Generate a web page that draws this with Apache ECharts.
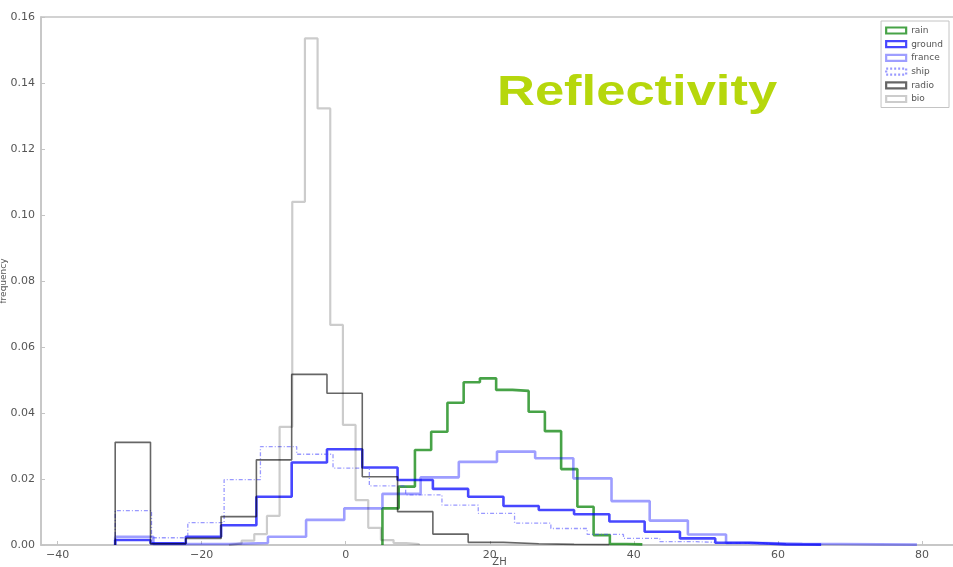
<!DOCTYPE html>
<html>
<head>
<meta charset="utf-8">
<script src="https://cdn.jsdelivr.net/npm/echarts@6/dist/echarts.min.js"></script>
<style>html,body{margin:0;padding:0;background:#fff;}#c{width:953px;height:567px;}</style>
</head>
<body>
<div id="c"></div>
<script>
// Histogram bins: start edge and bin width for each data set, and bin heights (frequency)
const rainStart = 5.1, rainWidth = 2.255;
const rainValues = [0.0111,0.0177,0.0288,0.0343,0.0431,0.0493,0.0505,0.047,0.0467,0.0404,0.0345,0.023,0.0116,0.003,0.0003,0.0002];

const groundStart = -32, groundWidth = 4.9;
const groundValues = [0.0015,0.0005,0.0025,0.006,0.0146,0.025,0.029,0.0235,0.0197,0.017,0.0146,0.0118,0.0106,0.0093,0.0071,0.004,0.002,0.0007,0.0002,0.0001];

const franceStart = -32, franceWidth = 5.3;
const franceValues = [0.0025,0.0003,0.0003,0.0006,0.0025,0.0076,0.0111,0.0155,0.0205,0.0252,0.0283,0.0263,0.0202,0.0133,0.0074,0.0032,0.0006,0.0004,0.0003,0.0002,0.0001];

const shipStart = -32, shipWidth = 5.04;
const shipValues = [0.0104,0.0022,0.0068,0.0198,0.0298,0.0275,0.0233,0.0179,0.0152,0.0121,0.0096,0.0066,0.005,0.0032,0.002,0.001,0.0006,0.0003];

const radioStart = -32, radioWidth = 4.9;
const radioValues = [0.0311,0.0004,0.002,0.0086,0.0258,0.0517,0.046,0.0207,0.0101,0.0033,0.0008,0.0004,0.0002,0.0001];

const bioStart = -16.21, bioWidth = 1.758;
const bioValues = [0.0005,0.0013,0.0033,0.0088,0.0358,0.104,0.1535,0.1323,0.0667,0.0364,0.0136,0.0052,0.0015,0.0006,0.0003];

const seriesNames = ['rain','ground','france','ship','radio','bio'];
const xTickValues = [-40,-20,0,20,40,60,80];
const yTickValues = [0,0.02,0.04,0.06,0.08,0.10,0.12,0.14,0.16];
const titleText = 'Reflectivity';

// step outline (matplotlib histtype='step')
function stepPoints(start, width, values) {
  const pts = [[start, 0]];
  values.forEach((v, i) => {
    const a = start + i * width, b = start + (i + 1) * width;
    pts.push([a, v]);
    pts.push([b, v]);
  });
  pts.push([start + values.length * width, 0]);
  return pts;
}

const styles = {
  rain:   {color:'rgba(0,128,0,0.72)',   width:2.6, type:'solid'},
  ground: {color:'rgba(0,0,255,0.72)',   width:2.6, type:'solid'},
  france: {color:'rgba(0,0,255,0.38)',   width:2.6, type:'solid'},
  ship:   {color:'rgba(70,70,255,0.55)', width:1.3, type:[4,2,1,2]},
  radio:  {color:'rgba(0,0,0,0.6)',      width:1.6, type:'solid'},
  bio:    {color:'rgba(0,0,0,0.2)',      width:2.2, type:'solid'}
};
const dataSets = {
  rain: stepPoints(rainStart, rainWidth, rainValues),
  ground: stepPoints(groundStart, groundWidth, groundValues),
  france: stepPoints(franceStart, franceWidth, franceValues),
  ship: stepPoints(shipStart, shipWidth, shipValues),
  radio: stepPoints(radioStart, radioWidth, radioValues),
  bio: stepPoints(bioStart, bioWidth, bioValues)
};

const chart = echarts.init(document.getElementById('c'), null, {renderer:'canvas'});
const fmtX = v => (v < 0 ? '\u2212' + Math.abs(v) : String(v));
chart.setOption({
  backgroundColor:'#ffffff',
  animation:false,
  grid:{left:41, right:-5, top:17, bottom:22, show:true, borderColor:'#c4c4c4', borderWidth:1.5,
        containLabel:false, outerBoundsMode:'none'},
  xAxis:{
    type:'value', min:-42.3, max:85,
    axisLine:{show:true, onZero:false, lineStyle:{color:'#c4c4c4', width:1.5}},
    axisTick:{show:true, inside:true, length:4, customValues:xTickValues, lineStyle:{color:'#c4c4c4'}},
    axisLabel:{customValues:xTickValues, formatter:fmtX, fontSize:11, color:'#555', margin:5, fontFamily:'DejaVu Sans'},
    splitLine:{show:false},
    name:'ZH', nameLocation:'middle', nameGap:12, nameMoveOverlap:false,
    nameTextStyle:{fontSize:10, color:'#555', fontFamily:'DejaVu Sans'}
  },
  yAxis:{
    type:'value', min:0, max:0.16, interval:0.02,
    axisLine:{show:true, onZero:false, lineStyle:{color:'#c4c4c4', width:1.5}},
    axisTick:{show:true, inside:true, length:4, lineStyle:{color:'#c4c4c4'}},
    axisLabel:{formatter:v => v.toFixed(2), fontSize:11, color:'#555', margin:6, fontFamily:'DejaVu Sans'},
    splitLine:{show:false},
    name:'frequency', nameLocation:'middle', nameGap:33, nameRotate:90, nameMoveOverlap:false,
    nameTextStyle:{fontSize:9, color:'#555', fontFamily:'DejaVu Sans'}
  },
  legend:{
    orient:'vertical', right:4, top:21,
    backgroundColor:'#fff', borderColor:'#c4c4c4', borderWidth:1, borderRadius:0,
    padding:[4,6,3,4], itemWidth:20, itemHeight:6, itemGap:2.7,
    textStyle:{fontSize:9, color:'#555', lineHeight:11, fontFamily:'DejaVu Sans'},
    data: seriesNames.map(n => ({
      name:n, icon:'rect',
      itemStyle:{color:'#fff', borderColor:styles[n].color, borderWidth:2.2, borderType: n === 'ship' ? [2,2] : 'solid'}
    }))
  },
  graphic:[{
    type:'text', x:497, y:93, scaleX:1.25, scaleY:1,
    style:{text:titleText, x:0, y:0, fill:'#b6d70c', font:'bold 42px "Liberation Sans", Arial, sans-serif', verticalAlign:'middle', align:'left'}
  }],
  series: seriesNames.map(n => ({
    name:n, type:'line', data:dataSets[n], showSymbol:false, symbol:'none',
    lineStyle:{color:styles[n].color, width:styles[n].width, type:styles[n].type},
    itemStyle:{color:styles[n].color},
    emphasis:{disabled:true}
  }))
});
</script>
</body>
</html>
